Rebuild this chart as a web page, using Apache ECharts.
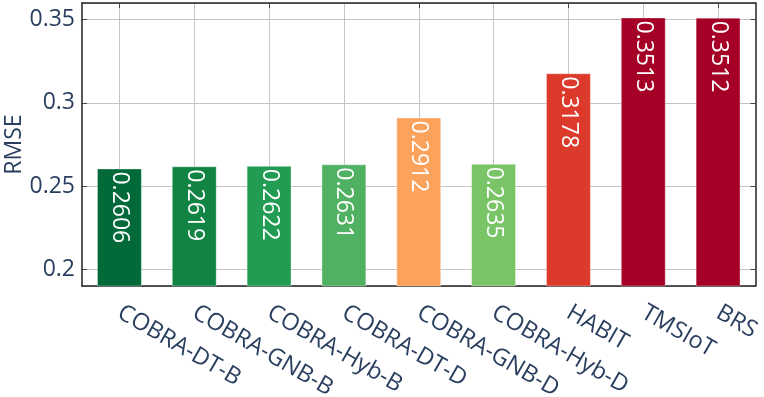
<!DOCTYPE html>
<html>
<head>
<meta charset="utf-8">
<script src="https://cdn.jsdelivr.net/npm/echarts@6/dist/echarts.min.js"></script>
<style>
html,body{margin:0;padding:0;background:#fff;}
#chart{width:764px;height:397px;}
</style>
</head>
<body>
<div id="chart"></div>
<script>
const categories = ['COBRA-DT-B','COBRA-GNB-B','COBRA-Hyb-B','COBRA-DT-D','COBRA-GNB-D','COBRA-Hyb-D','HABIT','TMSIoT','BRS'];
const rmseValues = [0.2606, 0.2619, 0.2622, 0.2631, 0.2912, 0.2635, 0.3178, 0.3513, 0.3512];
const barColors = ['#016a38','#118443','#229c52','#51b163','#fba25d','#78c467','#dc3a2b','#a50026','#a50026'];
const yName = 'RMSE';

const font = 'Open Sans';
const textColor = '#2a3f5f';
const gridColor = '#c4c4c4';
const boxColor = '#222';

const chart = echarts.init(document.getElementById('chart'), null, {renderer:'canvas'});
chart.setOption({
  animation:false,
  grid:{left:82, right:8.5, top:3, bottom:111, containLabel:false, outerBoundsMode:'none'},
  xAxis:[{
    type:'category', data:categories, position:'bottom',
    axisLine:{show:true, lineStyle:{color:boxColor, width:1.5}},
    axisTick:{show:true, inside:true, alignWithLabel:true, length:5, lineStyle:{color:'#444'}},
    splitLine:{show:true, alignWithLabel:true, lineStyle:{color:gridColor, width:1}},
    axisLabel:{rotate:-30, margin:25, fontFamily:font, fontSize:23.5, color:textColor, interval:0}
  },{
    type:'category', data:categories, position:'top',
    axisLine:{show:true, lineStyle:{color:boxColor, width:1.5}},
    axisTick:{show:true, inside:true, alignWithLabel:true, length:5, lineStyle:{color:'#444'}},
    axisLabel:{show:false}, splitLine:{show:false}
  }],
  yAxis:[{
    type:'value', min:0.19, max:0.36, splitNumber:4, position:'left',
    name:yName, nameLocation:'middle', nameGap:56, nameRotate:90, nameMoveOverlap:false,
    nameTextStyle:{fontFamily:font, fontSize:23, color:textColor},
    axisLine:{show:true, lineStyle:{color:boxColor, width:1.5}},
    axisTick:{show:true, inside:true, length:5, lineStyle:{color:'#444'}},
    splitLine:{show:true, lineStyle:{color:gridColor, width:1}},
    axisLabel:{fontFamily:font, fontSize:23, color:textColor, margin:7, showMinLabel:false, showMaxLabel:false,
      formatter:v=>String(Math.round(v*100)/100)}
  },{
    type:'value', min:0.19, max:0.36, splitNumber:4, position:'right',
    axisLine:{show:true, lineStyle:{color:boxColor, width:1.5}},
    axisTick:{show:true, inside:true, length:5, lineStyle:{color:'#444'}},
    splitLine:{show:false}, axisLabel:{show:false}
  }],
  series:[{
    type:'bar', xAxisIndex:0, yAxisIndex:0, barWidth:'60%',
    data:rmseValues.map((v,i)=>({value:v, itemStyle:{color:barColors[i]}})),
    itemStyle:{borderColor:'rgba(255,255,255,0.35)', borderWidth:1},
    label:{show:true, position:'insideTop', rotate:-90, align:'left', verticalAlign:'middle', distance:3,
      fontFamily:font, fontSize:23, color:'#fff', formatter:p=>p.value.toFixed(4)}
  }]
});
</script>
</body>
</html>
